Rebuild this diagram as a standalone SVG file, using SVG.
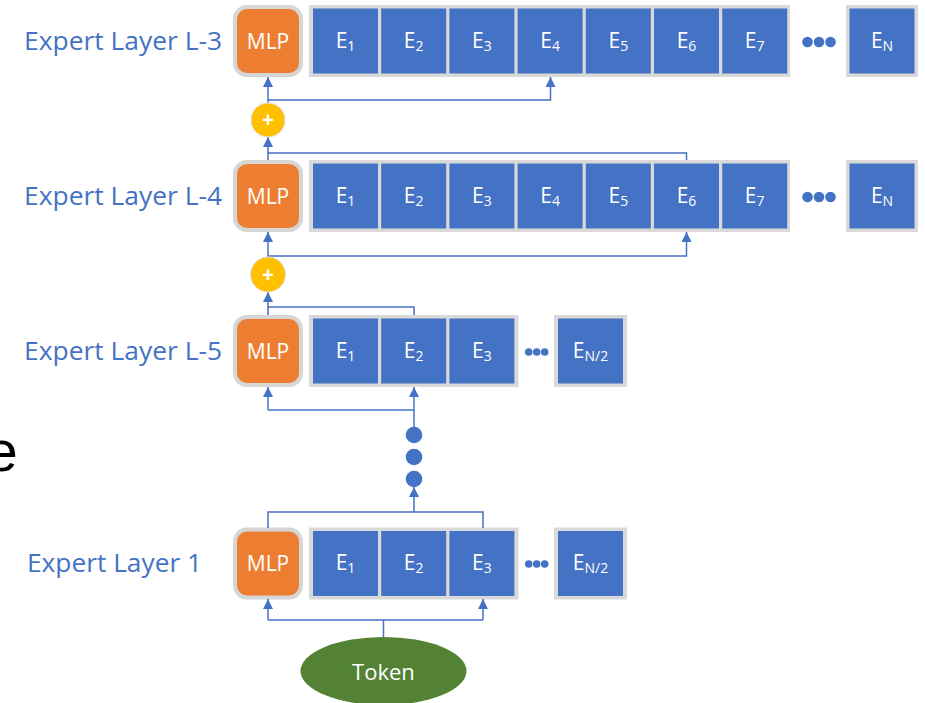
<svg xmlns="http://www.w3.org/2000/svg" width="925" height="703" viewBox="0 0 925 703">
<style>
.lbl{font-family:"Open Sans","Noto Sans",sans-serif;font-size:26px;fill:#4472C4}
.mlp{fill:#ED7D31;stroke:#D6D6D6;stroke-width:4}
.cont{fill:#D9D9D9}
.ex{fill:#4472C4}
.t{font-family:"Open Sans","Noto Sans",sans-serif;fill:#FFFFFF;text-anchor:middle}
.et{font-size:21px}
.sub{font-size:14px}
.mt{font-size:21px}
.dot{fill:#4472C4}
.plus{fill:#FFC000;stroke:#E0E0E0;stroke-width:1}
.c{fill:none;stroke:#4472C4;stroke-width:1.5}
</style>
<defs>
<marker id="ah" viewBox="0 0 10 10" refX="10" refY="5" markerWidth="10" markerHeight="10" orient="auto" markerUnits="userSpaceOnUse"><path d="M0,0 L10,5 L0,10 z" fill="#4472C4"/></marker>
</defs>
<rect width="925" height="703" fill="#FFFFFF"/>
<text x="-14.5" y="471" font-family="'Liberation Sans',Arial,sans-serif" font-size="58" fill="#000000">e</text>

<g id="layer-L3">
<text class="lbl" x="24" y="50" textLength="198" lengthAdjust="spacingAndGlyphs">Expert Layer L-3</text>
<g id="mlp-L3"><rect class="mlp" x="235" y="7" width="66" height="68" rx="12"/><text class="t mt" x="268" y="49">MLP</text></g>
<rect class="cont" x="309" y="5" width="481" height="72"/>
<g id="L3-E1"><rect class="ex" x="313" y="8.5" width="65" height="65"/><text class="t et" x="345.5" y="48">E<tspan class="sub" dy="3">1</tspan></text></g>
<g id="L3-E2"><rect class="ex" x="381.2" y="8.5" width="65" height="65"/><text class="t et" x="413.7" y="48">E<tspan class="sub" dy="3">2</tspan></text></g>
<g id="L3-E3"><rect class="ex" x="449.4" y="8.5" width="65" height="65"/><text class="t et" x="481.9" y="48">E<tspan class="sub" dy="3">3</tspan></text></g>
<g id="L3-E4"><rect class="ex" x="517.6" y="8.5" width="65" height="65"/><text class="t et" x="550.1" y="48">E<tspan class="sub" dy="3">4</tspan></text></g>
<g id="L3-E5"><rect class="ex" x="585.8" y="8.5" width="65" height="65"/><text class="t et" x="618.3" y="48">E<tspan class="sub" dy="3">5</tspan></text></g>
<g id="L3-E6"><rect class="ex" x="654" y="8.5" width="65" height="65"/><text class="t et" x="686.5" y="48">E<tspan class="sub" dy="3">6</tspan></text></g>
<g id="L3-E7"><rect class="ex" x="722.2" y="8.5" width="65" height="65"/><text class="t et" x="754.7" y="48">E<tspan class="sub" dy="3">7</tspan></text></g>
<circle class="dot" cx="807.5" cy="42" r="5.3"/><circle class="dot" cx="819" cy="42" r="5.3"/><circle class="dot" cx="830.5" cy="42" r="5.3"/>
<g id="L3-EN"><rect class="cont" x="846" y="5" width="72" height="72"/><rect class="ex" x="849.5" y="8.5" width="65" height="65"/><text class="t et" x="882" y="48">E<tspan class="sub" dy="3">N</tspan></text></g>
</g>

<g id="layer-L4">
<text class="lbl" x="24" y="205" textLength="198" lengthAdjust="spacingAndGlyphs">Expert Layer L-4</text>
<g id="mlp-L4"><rect class="mlp" x="235" y="162" width="66" height="68" rx="12"/><text class="t mt" x="268" y="204">MLP</text></g>
<rect class="cont" x="309" y="160" width="481" height="72"/>
<g id="L4-E1"><rect class="ex" x="313" y="163.5" width="65" height="65"/><text class="t et" x="345.5" y="203">E<tspan class="sub" dy="3">1</tspan></text></g>
<g id="L4-E2"><rect class="ex" x="381.2" y="163.5" width="65" height="65"/><text class="t et" x="413.7" y="203">E<tspan class="sub" dy="3">2</tspan></text></g>
<g id="L4-E3"><rect class="ex" x="449.4" y="163.5" width="65" height="65"/><text class="t et" x="481.9" y="203">E<tspan class="sub" dy="3">3</tspan></text></g>
<g id="L4-E4"><rect class="ex" x="517.6" y="163.5" width="65" height="65"/><text class="t et" x="550.1" y="203">E<tspan class="sub" dy="3">4</tspan></text></g>
<g id="L4-E5"><rect class="ex" x="585.8" y="163.5" width="65" height="65"/><text class="t et" x="618.3" y="203">E<tspan class="sub" dy="3">5</tspan></text></g>
<g id="L4-E6"><rect class="ex" x="654" y="163.5" width="65" height="65"/><text class="t et" x="686.5" y="203">E<tspan class="sub" dy="3">6</tspan></text></g>
<g id="L4-E7"><rect class="ex" x="722.2" y="163.5" width="65" height="65"/><text class="t et" x="754.7" y="203">E<tspan class="sub" dy="3">7</tspan></text></g>
<circle class="dot" cx="807.5" cy="197" r="5.3"/><circle class="dot" cx="819" cy="197" r="5.3"/><circle class="dot" cx="830.5" cy="197" r="5.3"/>
<g id="L4-EN"><rect class="cont" x="846" y="160" width="72" height="72"/><rect class="ex" x="849.5" y="163.5" width="65" height="65"/><text class="t et" x="882" y="203">E<tspan class="sub" dy="3">N</tspan></text></g>
</g>

<g id="layer-L5">
<text class="lbl" x="24" y="360" textLength="198" lengthAdjust="spacingAndGlyphs">Expert Layer L-5</text>
<g id="mlp-L5"><rect class="mlp" x="235" y="317" width="66" height="68" rx="12"/><text class="t mt" x="268" y="359">MLP</text></g>
<rect class="cont" x="309" y="315" width="209.5" height="72"/>
<g id="L5-E1"><rect class="ex" x="313" y="318.5" width="65" height="65"/><text class="t et" x="345.5" y="358">E<tspan class="sub" dy="3">1</tspan></text></g>
<g id="L5-E2"><rect class="ex" x="381.2" y="318.5" width="65" height="65"/><text class="t et" x="413.7" y="358">E<tspan class="sub" dy="3">2</tspan></text></g>
<g id="L5-E3"><rect class="ex" x="449.4" y="318.5" width="65" height="65"/><text class="t et" x="481.9" y="358">E<tspan class="sub" dy="3">3</tspan></text></g>
<circle class="dot" cx="528.7" cy="352" r="3.8"/><circle class="dot" cx="536.7" cy="352" r="3.8"/><circle class="dot" cx="544.7" cy="352" r="3.8"/>
<g id="L5-EN2"><rect class="cont" x="554" y="315" width="73" height="72"/><rect class="ex" x="558" y="318.5" width="65" height="65"/><text class="t et" x="590.5" y="358">E<tspan class="sub" dy="3">N/2</tspan></text></g>
</g>

<g id="layer-1">
<text class="lbl" x="27" y="572" textLength="175" lengthAdjust="spacingAndGlyphs">Expert Layer 1</text>
<g id="mlp-1"><rect class="mlp" x="235" y="529.5" width="66" height="68" rx="12"/><text class="t mt" x="268" y="571">MLP</text></g>
<rect class="cont" x="309" y="527.5" width="209.5" height="72"/>
<g id="L1-E1"><rect class="ex" x="313" y="531" width="65" height="65"/><text class="t et" x="345.5" y="570">E<tspan class="sub" dy="3">1</tspan></text></g>
<g id="L1-E2"><rect class="ex" x="381.2" y="531" width="65" height="65"/><text class="t et" x="413.7" y="570">E<tspan class="sub" dy="3">2</tspan></text></g>
<g id="L1-E3"><rect class="ex" x="449.4" y="531" width="65" height="65"/><text class="t et" x="481.9" y="570">E<tspan class="sub" dy="3">3</tspan></text></g>
<circle class="dot" cx="528.7" cy="564" r="3.8"/><circle class="dot" cx="536.7" cy="564" r="3.8"/><circle class="dot" cx="544.7" cy="564" r="3.8"/>
<g id="L1-EN2"><rect class="cont" x="554" y="527.5" width="73" height="72"/><rect class="ex" x="558" y="531" width="65" height="65"/><text class="t et" x="590.5" y="570">E<tspan class="sub" dy="3">N/2</tspan></text></g>
</g>

<g id="connectors">
<path class="c" d="M268,103 V77" marker-end="url(#ah)"/>
<path class="c" d="M268,100 H550.5 V77" marker-end="url(#ah)"/>
<path class="c" d="M268,160 V137" marker-end="url(#ah)"/>
<path class="c" d="M268,153 H686.5 V160"/>
<path class="c" d="M268,257 V232" marker-end="url(#ah)"/>
<path class="c" d="M268,256 H686.5 V232" marker-end="url(#ah)"/>
<path class="c" d="M268,315 V292" marker-end="url(#ah)"/>
<path class="c" d="M268,307 H414 V315"/>
<path class="c" d="M268,410 V387" marker-end="url(#ah)"/>
<path class="c" d="M414,427 V387" marker-end="url(#ah)"/>
<path class="c" d="M268,410 H414"/>
<path class="c" d="M414,512 V487" marker-end="url(#ah)"/>
<path class="c" d="M268,528 V512 H483 V528"/>
<path class="c" d="M268,620 V599" marker-end="url(#ah)"/>
<path class="c" d="M483,620 V599" marker-end="url(#ah)"/>
<path class="c" d="M268,620 H483"/>
<path class="c" d="M383.5,638 V620"/>
</g>

<g id="plus-1"><circle class="plus" cx="268" cy="120" r="17"/><text class="t" x="268" y="127" font-size="21" font-weight="bold">+</text></g>
<g id="plus-2"><circle class="plus" cx="268" cy="274.5" r="17.5"/><text class="t" x="268" y="281.5" font-size="21" font-weight="bold">+</text></g>
<g id="dots-vertical"><circle class="dot" cx="414" cy="435" r="8.3"/><circle class="dot" cx="414" cy="457" r="8.3"/><circle class="dot" cx="414" cy="479" r="8.3"/></g>
<g id="token"><ellipse cx="383.5" cy="671" rx="83" ry="34" fill="#548235"/><text class="t" x="383.5" y="680" font-size="22">Token</text></g>
</svg>
